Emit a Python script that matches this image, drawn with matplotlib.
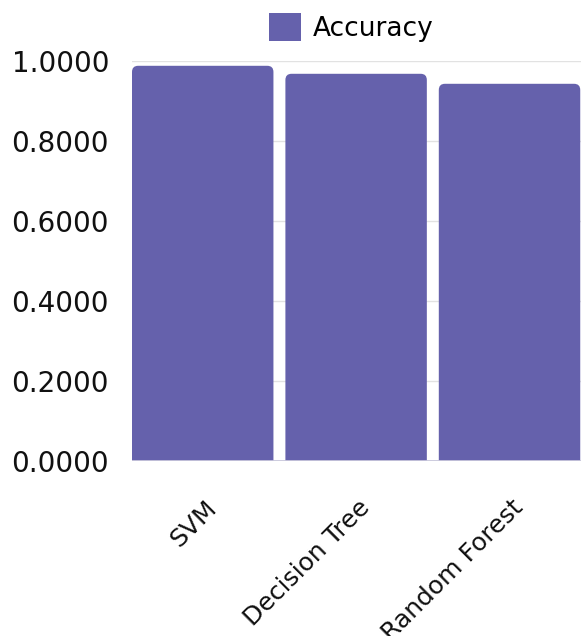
import matplotlib
matplotlib.use("Agg")
import matplotlib.pyplot as plt
from matplotlib.patches import FancyBboxPatch, Patch
from matplotlib.transforms import ScaledTranslation
from matplotlib.ticker import FormatStrFormatter

models = ["SVM", "Decision Tree", "Random Forest"]
accuracy = [0.988, 0.968, 0.943]
yticks = [0.0, 0.2, 0.4, 0.6, 0.8, 1.0]

bar_color = "#6561AC"
plt.rcParams["font.family"] = ["DejaVu Sans"]

fig = plt.figure(figsize=(5.81, 6.36), dpi=100)
ax = fig.add_axes([0.2272, 0.2752, 0.7728, 0.6289])

x = list(range(len(models)))
bars = ax.bar(x, accuracy, width=0.922, color=bar_color, zorder=2)

# swap the plain rectangles for rounded ones; the part below zero is
# clipped by the axes so only the top corners show as rounded
drop = 0.05
for rect in bars:
    rect.set_visible(False)
    x0, w, h = rect.get_x(), rect.get_width(), rect.get_height()
    ax.add_patch(FancyBboxPatch((x0, -drop), w, h + drop,
                                boxstyle="round,pad=0,rounding_size=0.04",
                                mutation_aspect=0.385,
                                facecolor=bar_color, edgecolor="none", zorder=2))

ax.set_xlim(-0.461, 2.466)
ax.set_ylim(0, 1.0)
ax.set_yticks(yticks)
ax.yaxis.set_major_formatter(FormatStrFormatter("%.4f"))
ax.tick_params(axis="y", length=0, pad=16.5, labelsize=20, labelcolor="#111111")
ax.tick_params(axis="x", length=0, pad=25, labelsize=18, labelcolor="#111111")

ax.set_xticks(x)
ax.set_xticklabels(models, rotation=45, ha="right", va="top",
                   rotation_mode="anchor")
for lbl in ax.get_xticklabels():
    lbl.set_transform(lbl.get_transform() +
                      ScaledTranslation(1 / 72, 0, fig.dpi_scale_trans))

ax.grid(axis="y", color="#e2e2e2", linewidth=1.0, zorder=0)
ax.set_axisbelow(True)
ax.axhline(0, color="#c9c8dc", linewidth=1.3, zorder=3)
for s in ax.spines.values():
    s.set_visible(False)

handle = Patch(facecolor=bar_color, edgecolor="none", label="Accuracy")
fig.legend(handles=[handle], loc="center", bbox_to_anchor=(0.605, 0.957),
           frameon=False, fontsize=19, handlelength=1.21, handleheight=1.25,
           handletextpad=0.45, borderpad=0, borderaxespad=0)

fig.savefig("out.png", dpi=100)
